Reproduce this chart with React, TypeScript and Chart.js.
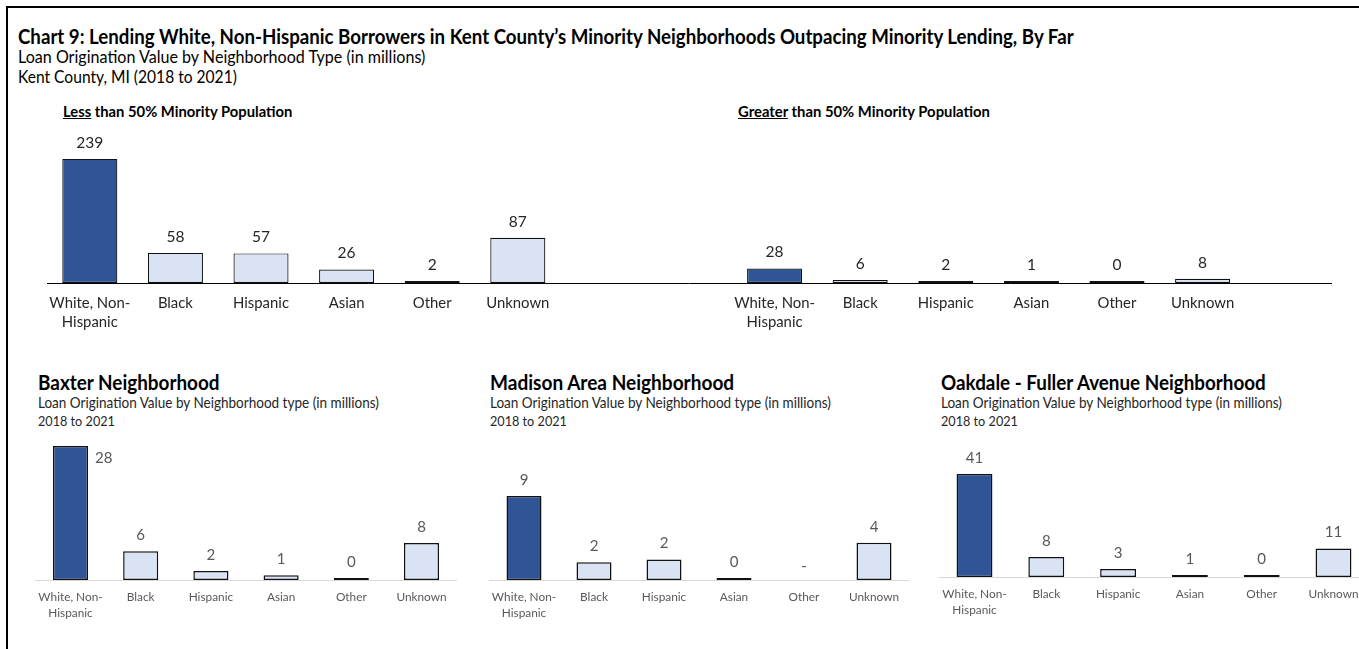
import React, { useEffect, useRef } from "react";
import { Chart, registerables } from "chart.js";
Chart.register(...registerables);

const FONT = "Lato, 'Open Sans', sans-serif";
const DARK = "#2F5597";
const LIGHT = "#DAE3F3";

// ---- data ----
const categories: (string | string[])[] = [["White, Non-", "Hispanic"], "Black", "Hispanic", "Asian", "Other", "Unknown"];
const lessThan50Values = [239, 58, 57, 26, 2, 87];
const greaterThan50Values = [28, 6, 2, 1, 0, 8];
const baxterValues = [28, 6, 1.9, 1, 0, 7.7];
const madisonValues: (number | null)[] = [9, 1.9, 2.2, 0, null, 4];
const oakdaleValues = [41, 8, 3.2, 0.8, 0, 11.4];

const mainTitle = "Chart 9: Lending White, Non-Hispanic Borrowers in Kent County\u2019s Minority Neighborhoods Outpacing Minority Lending, By Far";
const mainSub1 = "Loan Origination Value by Neighborhood Type (in millions)";
const mainSub2 = "Kent County, MI (2018 to 2021)";
const panelSub1 = "Loan Origination Value by Neighborhood type (in millions)";
const panelSub2 = "2018 to 2021";
const neighborhoods = ["Baxter Neighborhood", "Madison Area Neighborhood", "Oakdale - Fuller Avenue Neighborhood"];

let mctx: CanvasRenderingContext2D | null = null;
function fitSize(text: string, width: number, weight = 400) {
  if (!mctx) mctx = document.createElement("canvas").getContext("2d");
  mctx!.font = `${weight} 100px ${FONT}`;
  return (100 * width) / mctx!.measureText(text).width;
}

const valueLabels = {
  id: "valueLabels",
  afterDatasetsDraw(chart: any, _a: any, opts: any) {
    const { ctx, chartArea } = chart;
    const xs = chart.scales.x;
    const ys = chart.scales.y;
    const meta = chart.getDatasetMeta(0);
    const data = chart.data.datasets[0].data;
    const labels = chart.data.labels;
    const base = ys.getPixelForValue(0);
    ctx.save();
    ctx.font = `${opts.size}px ${FONT}`;
    ctx.fillStyle = opts.color;
    ctx.textBaseline = "middle";
    data.forEach((v: number | null, i: number) => {
      if (labels[i] === "") return;
      const x = xs.getPixelForTick(i);
      if (v === null || v === undefined) {
        ctx.textAlign = "center";
        ctx.fillText("-", x, base - 14);
        return;
      }
      const el = meta.data[i];
      const top = Math.min(el.y, el.base);
      const text = String(Math.round(v));
      if (top - chartArea.top < 8) {
        ctx.textAlign = "left";
        ctx.fillText(text, x + el.width / 2 + 7, top + 12);
      } else {
        ctx.textAlign = "center";
        ctx.fillText(text, x, top - opts.offset);
      }
    });
    ctx.restore();
  },
};

type Rect = { left: number; right: number; top: number; bottom: number };
type Box = { left: number; top: number; width: number; height: number };

function BarPanel(props: {
  labels: (string | string[])[];
  values: (number | null)[];
  colors: string[];
  yMax: number;
  plot: Rect;
  box: Box;
  tickSize: number;
  tickLine: number;
  tickFirst: number;
  tickColor: string;
  valueSize: number;
  valueColor: string;
  axisColor: string;
  barPct: number;
  borderWidth: number;
}) {
  const ref = useRef<HTMLCanvasElement>(null);
  useEffect(() => {
    const p = props;
    const padLeft = p.plot.left - p.box.left;
    const padRight = p.box.left + p.box.width - p.plot.right;
    const padTop = p.plot.top - p.box.top;
    const axisH = p.box.top + p.box.height - p.plot.bottom;
    const chart = new Chart(ref.current!, {
      type: "bar",
      data: {
        labels: p.labels as any,
        datasets: [
          {
            data: p.values as any,
            backgroundColor: p.colors,
            borderColor: "#111111",
            borderWidth: p.borderWidth,
            borderSkipped: false,
            barPercentage: p.barPct,
            categoryPercentage: 1,
            minBarLength: 2,
          } as any,
        ],
      },
      options: {
        responsive: false,
        maintainAspectRatio: false,
        animation: false,
        layout: { padding: { left: padLeft, right: padRight, top: padTop, bottom: 0 } },
        plugins: {
          legend: { display: false },
          tooltip: { enabled: false },
          valueLabels: { size: p.valueSize, color: p.valueColor, offset: 16 },
        } as any,
        scales: {
          x: {
            grid: { display: false, drawTicks: false },
            border: { display: true, color: p.axisColor, width: 1 },
            ticks: {
              font: { family: FONT, size: p.tickSize, lineHeight: p.tickLine / p.tickSize },
              color: p.tickColor,
              padding: p.tickFirst - p.tickLine / 2,
              maxRotation: 0,
              minRotation: 0,
              autoSkip: false,
            },
            afterFit: (s: any) => {
              s.height = axisH;
            },
          },
          y: { display: false, min: 0, max: p.yMax },
        },
      },
      plugins: [valueLabels as any],
    });
    return () => chart.destroy();
  }, []);
  const b = props.box;
  return (
    <canvas
      ref={ref}
      width={b.width}
      height={b.height}
      style={{ position: "absolute", left: b.left, top: b.top, width: b.width, height: b.height }}
    />
  );
}

const STRETCH = 1.08;

function FitText(props: {
  x: number;
  y: number;
  width: number;
  parts: { text: string; u?: boolean }[];
  bold?: boolean;
  color?: string;
}) {
  const text = props.parts.map((p) => p.text).join("");
  const weight = props.bold ? 700 : 400;
  const size = fitSize(text, props.width, weight) * STRETCH;
  return (
    <div
      style={{
        position: "absolute",
        left: props.x,
        top: props.y - size * 0.62,
        fontFamily: FONT,
        fontSize: size,
        fontWeight: weight,
        lineHeight: `${size * 1.2}px`,
        whiteSpace: "nowrap",
        color: props.color || "#000",
        transform: `scaleX(${1 / STRETCH})`,
        transformOrigin: "left center",
      }}
    >
      {props.parts.map((p, i) => (
        <span key={i} style={p.u ? { textDecoration: "underline" } : undefined}>
          {p.text}
        </span>
      ))}
    </div>
  );
}

export default function App() {
  const groupColors = categories.map((_, i) => (i === 0 ? DARK : LIGHT));
  const topLabels = [...categories, "", "", ...categories, ""];
  const topValues = [...lessThan50Values, null, null, ...greaterThan50Values, null];
  const topColors = [...groupColors, LIGHT, LIGHT, ...groupColors, LIGHT];

  const topTick = fitSize("Hispanic", 56);
  const topValue = fitSize("239", 27);
  const botTick = fitSize("Hispanic", 44.5);
  const botValue = fitSize("28", 17.5);

  const bottomCommon = {
    labels: categories,
    colors: groupColors,
    tickSize: botTick,
    tickLine: 16,
    tickFirst: 17,
    tickColor: "#595959",
    valueSize: botValue,
    valueColor: "#595959",
    axisColor: "#D9D9D9",
    barPct: 0.5,
    borderWidth: 1.5,
  };

  const nbX = [38, 490, 941];
  const nbW = [182, 245, 326];

  return (
    <div style={{ position: "fixed", left: 0, top: 0, width: 1359, height: 649, overflow: "hidden", background: "#fff" }}>
      <div
        style={{
          position: "absolute",
          left: 6,
          top: 6,
          width: 1400,
          height: 700,
          borderTop: "2px solid #000",
          borderLeft: "2px solid #000",
        }}
      />
      <FitText x={18} y={37} width={1058} bold parts={[{ text: mainTitle }]} />
      <FitText x={18} y={58} width={409} parts={[{ text: mainSub1 }]} />
      <FitText x={18} y={77} width={219} parts={[{ text: mainSub2 }]} />
      <FitText x={63} y={111} width={230} bold parts={[{ text: "Less", u: true }, { text: " than 50% Minority Population" }]} />
      <FitText x={738} y={111} width={253} bold parts={[{ text: "Greater", u: true }, { text: " than 50% Minority Population" }]} />

      <BarPanel
        labels={topLabels}
        values={topValues}
        colors={topColors}
        yMax={260}
        plot={{ left: 47, right: 1331, top: 148, bottom: 283 }}
        box={{ left: 0, top: 125, width: 1359, height: 215 }}
        tickSize={topTick}
        tickLine={19}
        tickFirst={20}
        tickColor="#262626"
        valueSize={topValue}
        valueColor="#262626"
        axisColor="#000000"
        barPct={0.643}
        borderWidth={1.2}
      />

      {neighborhoods.map((n, i) => (
        <React.Fragment key={n}>
          <FitText x={nbX[i]} y={383} width={nbW[i]} bold parts={[{ text: n }]} />
          <FitText x={nbX[i]} y={403} width={342} parts={[{ text: panelSub1 }]} color="#262626" />
          <FitText x={nbX[i]} y={421} width={77} parts={[{ text: panelSub2 }]} color="#262626" />
        </React.Fragment>
      ))}

      <BarPanel
        {...bottomCommon}
        values={baxterValues}
        yMax={28.5}
        plot={{ left: 35.4, right: 456.6, top: 443.5, bottom: 580 }}
        box={{ left: 20, top: 432, width: 460, height: 200 }}
      />
      <BarPanel
        {...bottomCommon}
        values={madisonValues}
        yMax={10.5}
        plot={{ left: 489, right: 909, top: 482, bottom: 580 }}
        box={{ left: 470, top: 432, width: 460, height: 200 }}
      />
      <BarPanel
        {...bottomCommon}
        values={oakdaleValues}
        yMax={46}
        plot={{ left: 938.6, right: 1369.4, top: 461.5, bottom: 577 }}
        box={{ left: 920, top: 432, width: 470, height: 200 }}
      />
    </div>
  );
}
